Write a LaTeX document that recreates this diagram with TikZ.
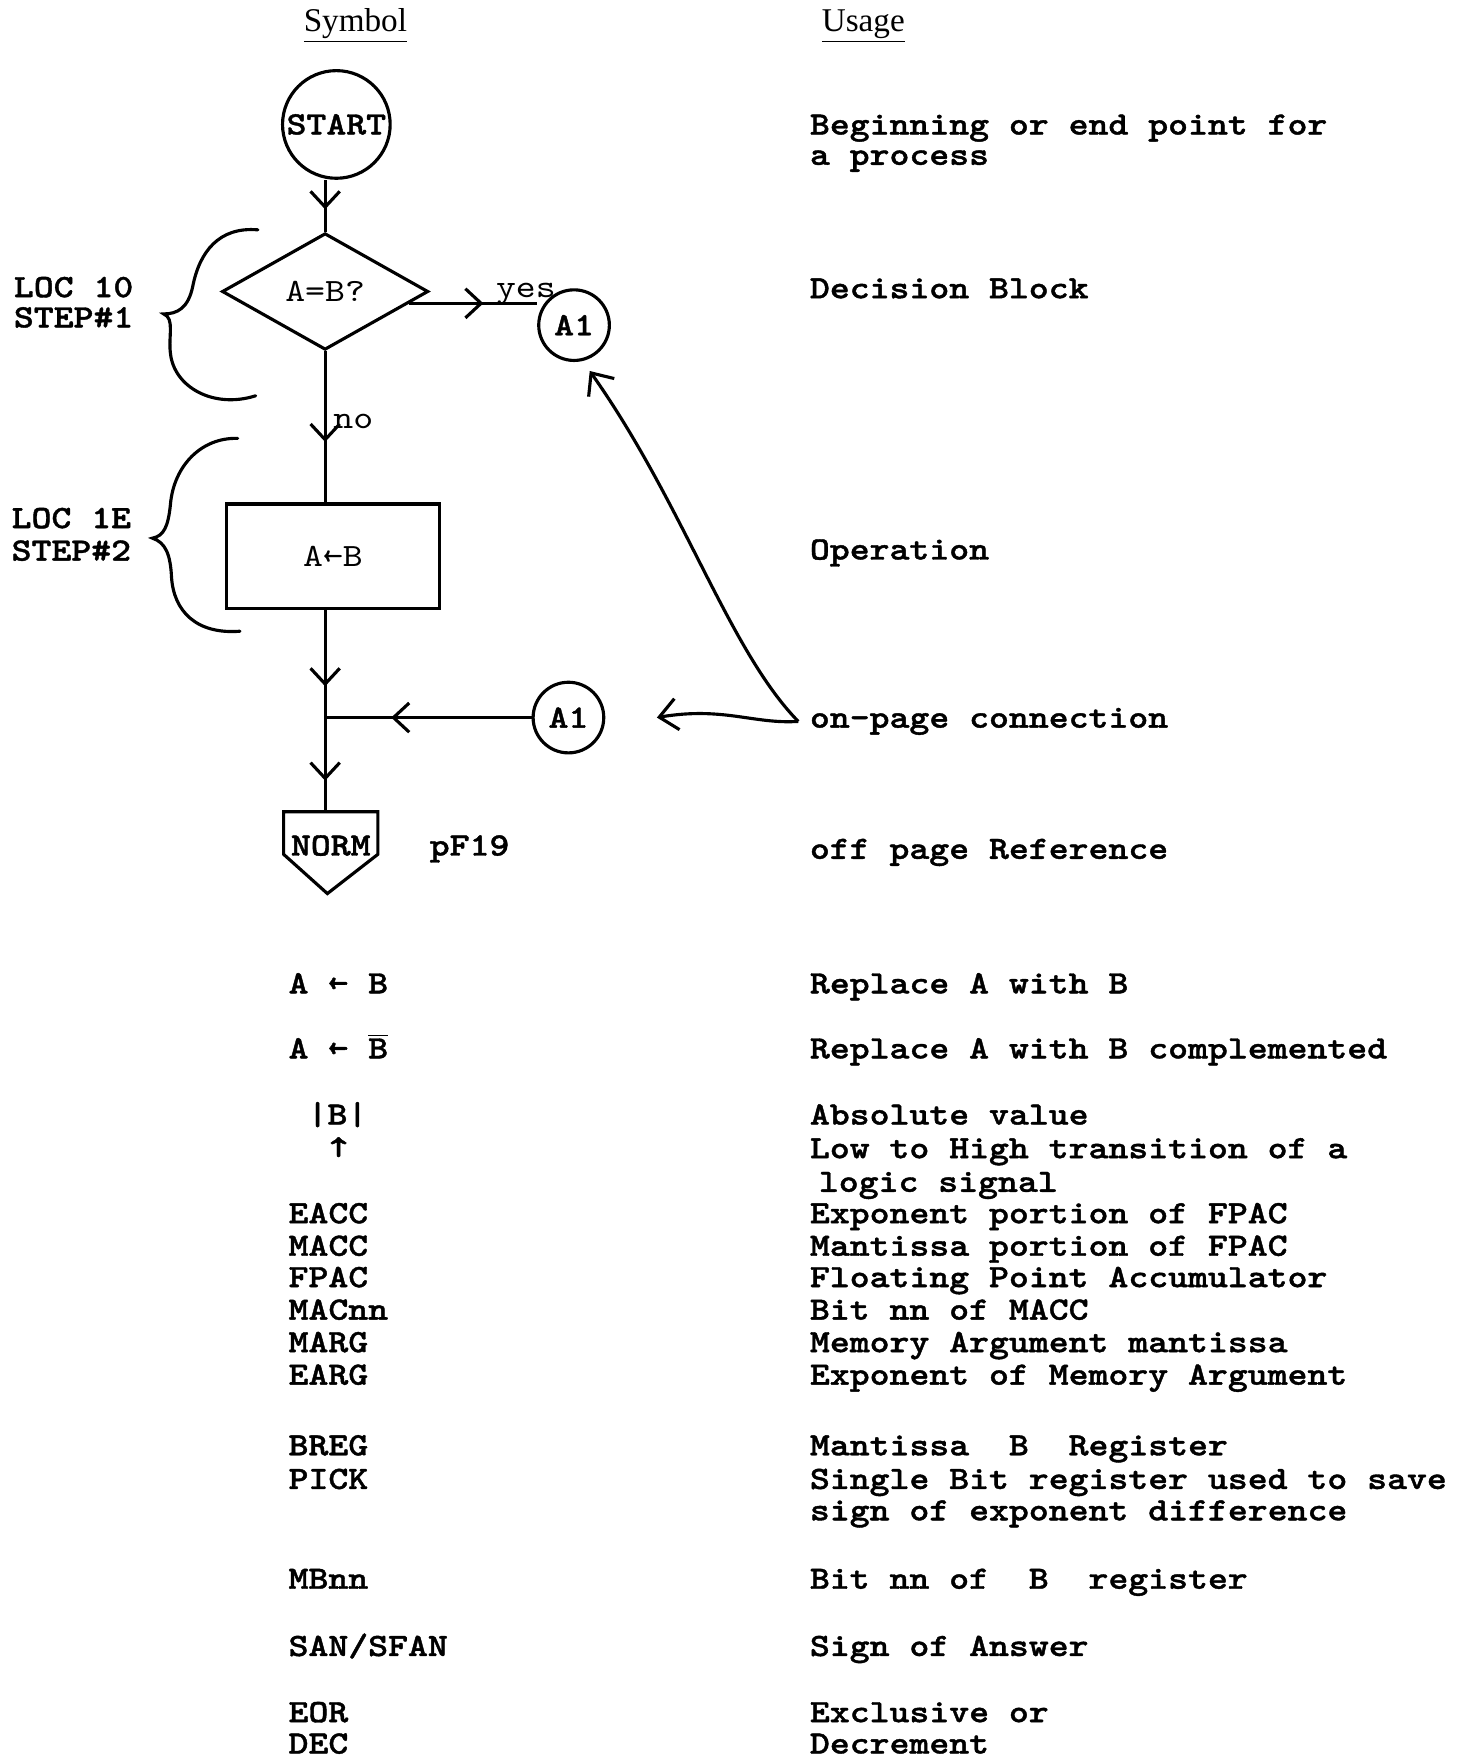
\documentclass[tikz,border=0pt]{standalone}
\usepackage{fontspec}
\setmainfont{Liberation Serif}
\setmonofont{lmmono10-regular}[Extension=.otf, BoldFont=lmmonolt10-bold,
  BoldFeatures={FakeBold=1.2}, FakeStretch=1.166]
\usetikzlibrary{positioning,shapes.geometric,arrows.meta,decorations.markings}

\newcommand{\compl}[1]{$\overline{\mbox{#1}}$}

\begin{document}
\begin{tikzpicture}[
  x=0.5pt, y=-0.5pt,
  tw/.style={font=\ttfamily\fontsize{14.5pt}{14.5pt}\selectfont, inner sep=0pt},
  twb/.style={font=\ttfamily\bfseries\fontsize{14.5pt}{14.5pt}\selectfont, inner sep=0pt},
  sym/.style={twb, anchor=base west},
  usage/.style={twb, anchor=base west},
  hdr/.style={font=\fontsize{14.8pt}{16pt}\selectfont, anchor=base},
  term/.style={circle, draw, line width=1.4pt, minimum size=48pt, twb},
  conn/.style={circle, draw, line width=1.4pt, minimum size=31.5pt, twb},
  decision/.style={diamond, draw, line width=1.4pt, aspect=1.8,
                   minimum width=92pt, minimum height=52pt, tw},
  oper/.style={rectangle, draw, line width=1.4pt, minimum width=95pt,
               minimum height=46.5pt, tw},
  flow/.style={line width=1.4pt},
  midarrow/.style={postaction={decorate}, decoration={markings,
      mark=at position #1 with {\arrow{Straight Barb[length=7pt,width=13pt]}}}},
  hand/.style={line width=1.4pt, -{Straight Barb[length=8pt,width=14pt]}},
  curly/.style={line width=1.4pt, line cap=round},
]
  \useasboundingbox (0,0) rectangle (1304,1568);

  % Column headers
  \node[hdr] (hsym) at (317,28) {\underline{Symbol}};
  \node[hdr] (huse) at (770,28) {\underline{Usage}};

  % Flowchart symbols
  \node[term]     (start) at (300,111) {START};
  \node[decision] (dec)   at (290,260) {A=B?};
  \node[conn]     (a1a)   at (512,290) {A1};
  \node[oper]     (box)   at (297,496) {A←B};
  \coordinate     (join)  at (290,640);
  \node[conn]     (a1b)   at (507,640) {A1};
  \node[twb, anchor=base] (norm) at (295,763) {NORM};
  \path (norm.base) ++(-5,-39) coordinate (normtop);
  \node[twb, base right=26pt of norm] (pf) {pF19};

  \node[tw, anchor=base west] (yes) at (442,265) {yes};
  \node[tw, anchor=base west] (no)  at (297,382) {no};

  % Flow lines
  \draw[flow, midarrow=0.57] (start.south -| dec.north) -- (dec.north);
  \draw[flow, midarrow=0.6]  (dec.south) -- (dec.south |- box.north);
  \draw[flow, midarrow=0.58] (dec.-8) -- (dec.-8 -| a1a.west);
  \draw[flow, midarrow=0.71] (box.south -| join) -- (join);
  \draw[flow, midarrow=0.67] (join) -- (normtop);
  \draw[flow, midarrow=0.68] (a1b) -- (join);

  % Off-page pentagon
  \draw[flow] (norm.base) ++(-42,-39) -- ++(84,0) -- ++(0,38)
    -- ++(-45,35) -- ++(-39,-35) -- cycle;

  % Step braces
  \draw[curly] (230,205) .. controls (195,202) and (178,225) .. (172,255)
    .. controls (168,275) and (158,280) .. (146,280)
    .. controls (156,284) and (150,300) .. (152,315)
    .. controls (155,345) and (190,365) .. (228,353);
  \draw[curly] (212,391) .. controls (180,390) and (155,415) .. (152,450)
    .. controls (150,470) and (146,478) .. (136,480)
    .. controls (148,484) and (152,495) .. (153,515)
    .. controls (155,545) and (175,566) .. (214,563);

  \node[twb, anchor=base west] (loca)  at (12,265) {LOC 10};
  \node[twb, anchor=base west] (stepa) at (12,292) {STEP\#1};
  \node[twb, anchor=base west] (locb)  at (10,471) {LOC 1E};
  \node[twb, anchor=base west] (stepb) at (10,500) {STEP\#2};

  % Usage of flowchart symbols
  \node[usage] (u1)     at (722,120) {Beginning or end point for};
  \node[usage] (u1b)    at (722,147) {a process};
  \node[usage] (u2)     at (722,266) {Decision Block};
  \node[usage] (u3)     at (722,499) {Operation};
  \node[usage] (onpage) at (722,649) {on-page connection};
  \node[usage] (u5)     at (722,766) {off page Reference};

  \draw[hand] ([xshift=-5pt]onpage.west) .. controls (650,580) and (610,450)
    .. ([shift={(7pt,-4pt)}]a1a.south);
  \draw[hand] ([xshift=-5pt]onpage.west) .. controls (672,646) and (645,630)
    .. ([xshift=23pt]a1b.east);

  % Symbol list
  \node[sym] (s1) at (257,886) {A ← B};
  \node[usage] (r1) at (722,886) {Replace A with B};
  \node[sym] (s2) at (257,944) {A ← \compl{B}};
  \node[usage] (r2) at (722,944) {Replace A with B complemented};
  \node[sym] (s3) at (274,1003) {|B|};
  \node[usage] (r3) at (722,1003) {Absolute value};
  \node[twb, anchor=base] (s4) at (302,1032) {↑};
  \node[usage] (r4) at (722,1033) {Low to High transition of a};
  \node[usage] (r4b) at (730,1063) {logic signal};

  \node[sym] (s5) at (257,1091) {EACC};
  \node[usage] (r5) at (722,1091) {Exponent portion of FPAC};
  \node[sym] (s6) at (257,1120) {MACC};
  \node[usage] (r6) at (722,1120) {Mantissa portion of FPAC};
  \node[sym] (s7) at (257,1148) {FPAC};
  \node[usage] (r7) at (722,1148) {Floating Point Accumulator};
  \node[sym] (s8) at (257,1177) {MACnn};
  \node[usage] (r8) at (722,1177) {Bit nn of MACC};
  \node[sym] (s9) at (257,1206) {MARG};
  \node[usage] (r9) at (722,1206) {Memory Argument mantissa};
  \node[sym] (s10) at (257,1235) {EARG};
  \node[usage] (r10) at (722,1235) {Exponent of Memory Argument};

  \node[sym] (s11) at (257,1298) {BREG};
  \node[usage] (r11) at (722,1298) {Mantissa\ \ B\ \ Register};
  \node[sym] (s12) at (257,1328) {PICK};
  \node[usage] (r12) at (722,1328) {Single Bit register used to save};
  \node[usage] (r12b) at (722,1356) {sign of exponent difference};

  \node[sym] (s13) at (257,1417) {MBnn};
  \node[usage] (r13) at (722,1417) {Bit nn of\ \ B\ \ register};
  \node[sym] (s14) at (257,1477) {SAN/SFAN};
  \node[usage] (r14) at (722,1477) {Sign of Answer};
  \node[sym] (s15) at (257,1536) {EOR};
  \node[usage] (r15) at (722,1536) {Exclusive or};
  \node[sym] (s16) at (257,1564) {DEC};
  \node[usage] (r16) at (722,1564) {Decrement};
\end{tikzpicture}
\end{document}
